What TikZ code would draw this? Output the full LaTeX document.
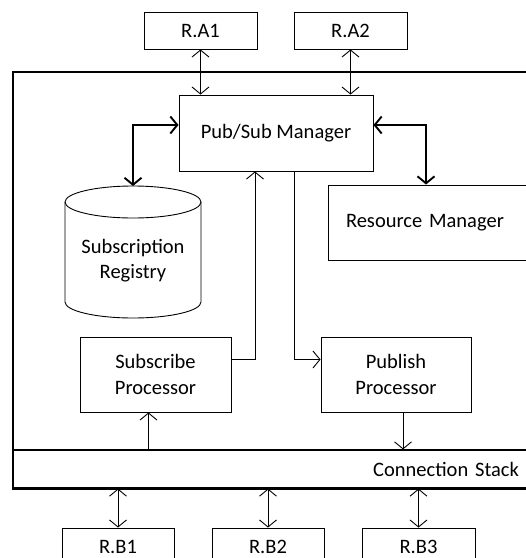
\documentclass[tikz,border=0pt]{standalone}
\usepackage{fontspec}
\setmainfont{Carlito}
\usetikzlibrary{arrows.meta}

\tikzset{
  >={Straight Barb[length=7pt,width=17pt]},
  box/.style={draw, line width=0.9pt, rectangle, align=center, inner sep=0pt},
  link/.style={line width=0.9pt},
  biglink/.style={line width=1.9pt, <->},
}

\begin{document}
\begin{tikzpicture}[x=1pt,y=-1pt,font=\fontsize{20.5}{25.5}\selectfont]

% size of the picture
\useasboundingbox (0,0) rectangle (526,558);
\clip (0,0) rectangle (526,558);

% outer frame
\node[box, line width=1.2pt, minimum width=532pt, minimum height=416pt] (frame) at (279,280) {};

% resources on top
\node[box, minimum width=113pt, minimum height=37pt] (ra1) at (200.5,30.5) {R.A1};
\node[box, minimum width=113pt, minimum height=37pt] (ra2) at (350.5,30.5) {R.A2};

% pub/sub manager
\node[box, minimum width=194pt, minimum height=76pt] (psm) at (276,133) {Pub/Sub Manager};

% subscription registry (cylinder)
\draw[line width=0.9pt] (133,202) ellipse [x radius=68, y radius=16];
\draw[line width=0.9pt] (65,202) -- (65,302) arc[start angle=180, end angle=0, x radius=68, y radius=16] -- (201,202);
\coordinate (regtop) at (133,186);
\node[align=center] (reg) at (133,260.5) {Subscription\\Registry};

% resource manager
\node[box, minimum height=75pt, text width=182pt, align=left, inner xsep=18pt] (rm) at (437,222.5) {Resource Manager};

% processors
\node[box, minimum width=151pt, minimum height=75pt] (sp) at (155.5,374.5) {Subscribe\\Processor};
\node[box, minimum width=150pt, minimum height=75pt] (pp) at (396,374.5) {Publish\\Processor};

% connection stack
\node[box, line width=1.2pt, minimum height=38pt, text width=480pt, align=right, inner xsep=26pt] (cs) at (279,469) {Connection Stack};
\draw[line width=1.9pt] (cs.south west) -- (cs.south east);

% resources at the bottom
\node[box, minimum width=112pt, minimum height=37pt] (rb1) at (118,546.5) {R.B1};
\node[box, minimum width=112pt, minimum height=37pt] (rb2) at (268,546.5) {R.B2};
\node[box, minimum width=113pt, minimum height=37pt] (rb3) at (418.5,546.5) {R.B3};

% top resources to manager
\draw[link, <->] (ra1.south) -- (ra1.south |- psm.north);
\draw[link, <->] (ra2.south) -- (ra2.south |- psm.north);

% manager to registry and resource manager
\draw[biglink] ([yshift=8pt]psm.west) -| (regtop);
\draw[biglink] ([yshift=8pt]psm.east) -| ([xshift=-11pt]rm.north);

% processors to manager
\draw[link, ->] ([yshift=15pt]sp.east) -| ([xshift=-21pt]psm.south);
\draw[link, ->] ([xshift=18pt]psm.south) |- ([yshift=15pt]pp.west);

% stack to processors
\draw[link, ->] ([xshift=-7pt]sp.south |- cs.north) -- ([xshift=-7pt]sp.south);
\draw[link, ->] ([xshift=7pt]pp.south) -- ([xshift=7pt]pp.south |- cs.north);

% stack to bottom resources
\draw[link, <->] (rb1.north |- cs.south) -- (rb1.north);
\draw[link, <->] (rb2.north |- cs.south) -- (rb2.north);
\draw[link, <->] (rb3.north |- cs.south) -- (rb3.north);

\end{tikzpicture}
\end{document}
